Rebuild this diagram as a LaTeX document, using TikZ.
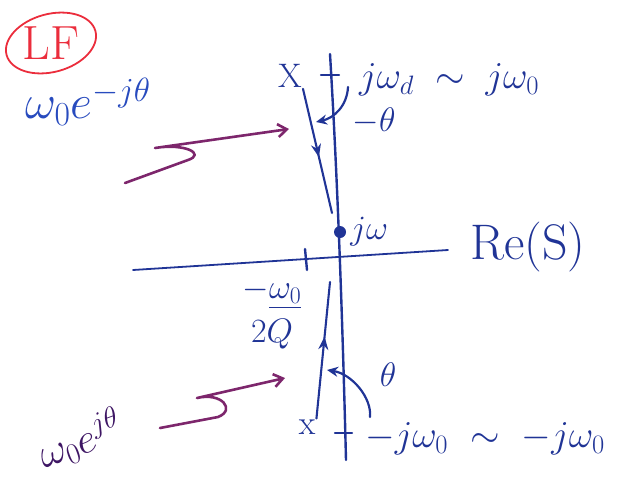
\documentclass[tikz,border=0pt]{standalone}
\usepackage{fix-cm}
\usepackage{amsmath}
\usepackage{tikz}
\usetikzlibrary{arrows.meta, positioning, decorations.markings}
\definecolor{ink}{RGB}{32,52,150}
\definecolor{sky}{RGB}{40,75,190}
\definecolor{plum}{RGB}{125,38,108}
\definecolor{grape}{RGB}{62,22,100}
\definecolor{pen}{RGB}{235,45,60}

\begin{document}
\begin{tikzpicture}[x=1pt, y=-1pt, line cap=round, line join=round,
    every node/.style={text=ink, inner sep=1pt, font=\fontsize{34}{36}\selectfont},
    ax/.style={draw=ink, line width=2.4pt},
    vec/.style={draw=ink, line width=2.1pt},
    midarrow/.style={postaction={decorate}, decoration={markings,
        mark=at position #1 with {\arrow{Stealth[length=13pt, width=10pt]}}}},
    ang/.style={draw=ink, line width=2.2pt, -{Stealth[length=11pt, width=10pt]}},
    wig/.style={draw=plum, line width=2.6pt, -{Straight Barb[length=9pt, width=13pt]}}]
  \useasboundingbox (0,0) rectangle (634,477);

  % circled tag
  \node[text=pen, font=\fontsize{48}{50}\selectfont] (lf) at (51,43) {LF};
  \draw[pen, line width=1.8pt, rotate around={15:(lf.center)}] (lf.center) ellipse [x radius=46, y radius=29];

  % axes
  \coordinate (yt) at (330,54);
  \coordinate (yb) at (346,460);
  \coordinate (xl) at (133,270);
  \coordinate (xr) at (448,250);
  \draw[ax] (yt) .. controls (337,170) and (342,300) .. (yb);
  \draw[ax, line width=1.8pt] (xl) -- (xr);
  \node[font=\fontsize{50}{52}\selectfont] (re) at (528,247) {Re(S)};
  \draw[ax] (305,249) -- (307,270);
  \node[align=center, font=\fontsize{34}{44}\selectfont] (sg) at (272,314) {$-\underline{\omega_0}$\\$2Q$};

  % origin point
  \node[circle, fill=ink, minimum size=12pt, inner sep=0pt] (jw) at (340,232) {};
  \node[right=3pt of jw] (jwl) {$j\omega$};

  % upper pole
  \draw[ax] (321,75) -- (339,75);
  \node (px) at (290,76) {X};
  \node[anchor=west, font=\fontsize{38}{40}\selectfont] (tl) at (358,80) {$j\omega_d\;\sim\;j\omega_0$};
  \coordinate (te) at (332,213);
  \draw[vec, midarrow=0.55] (px.south east) -- (te);
  \coordinate (ta1) at (348,87);
  \coordinate (ta2) at (316,122);
  \draw[ang] (ta1) .. controls (347,106) and (334,118) .. (ta2);
  \node (nt) at (374,121) {$-\theta$};

  % lower pole
  \draw[ax] (335,433) -- (352,433);
  \node (bx) at (307,427) {x};
  \node[anchor=west, font=\fontsize{38}{40}\selectfont] (bl) at (364,439) {$-j\omega_0\ \sim\ -j\omega_0$};
  \coordinate (be) at (330,282);
  \draw[vec, midarrow=0.6] (bx.north east) -- (be);
  \coordinate (ba1) at (370,417);
  \coordinate (ba2) at (327,370);
  \draw[ang] (ba1) .. controls (372,398) and (352,374) .. (ba2);
  \node (pt) at (388,375) {$\theta$};

  % labels with squiggle arrows
  \node[text=sky, font=\fontsize{48}{50}\selectfont] (wt) at (88,102) {$\omega_0 e^{-j\theta}$};
  \coordinate (ta) at (125,183);
  \coordinate (tb) at (188,160);
  \coordinate (tc) at (155,148);
  \coordinate (td) at (289,129);
  \draw[wig] (ta) -- (tb) .. controls +(18,-6) and +(30,-5) .. (tc) -- (td);

  \node[text=grape, rotate=20, font=\fontsize{42}{44}\selectfont] (wb) at (80,440) {$\omega_0 e^{j\theta}$};
  \coordinate (ba) at (160,428);
  \coordinate (bb) at (218,417);
  \coordinate (bc) at (197,398);
  \coordinate (bd) at (285,378);
  \draw[wig] (ba) -- (bb) .. controls +(18,-7) and +(25,-6) .. (bc) -- (bd);
\end{tikzpicture}
\end{document}
